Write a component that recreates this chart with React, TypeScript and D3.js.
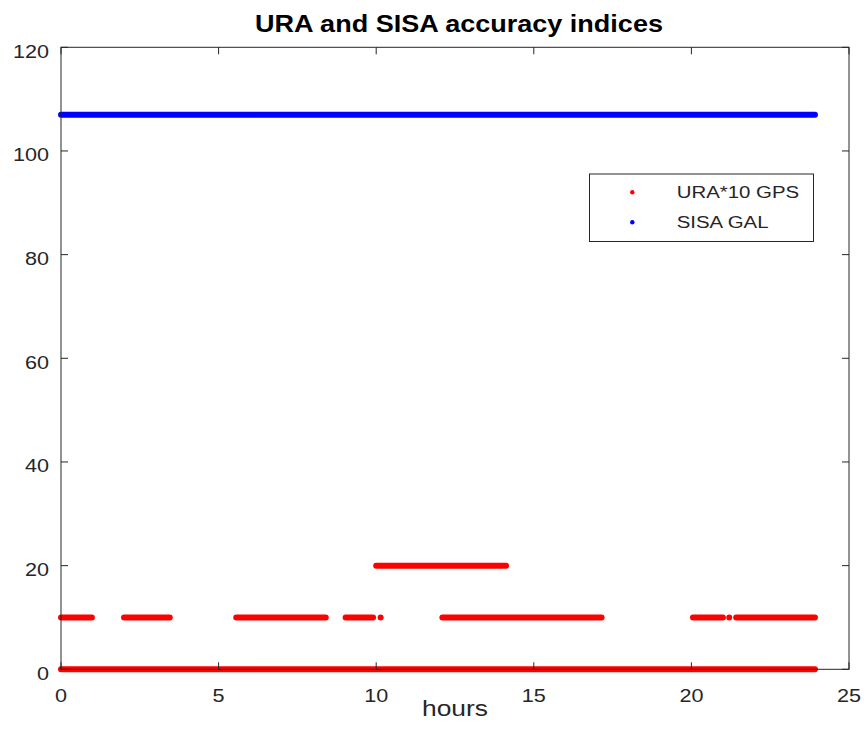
import React from "react";
import * as d3 from "d3";

// ---- data (hours) ----
const xTicks = [0, 5, 10, 15, 20, 25];
const yTicks = [0, 20, 40, 60, 80, 100, 120];

// runs of consecutive epochs: [startHour, endHour, value]
const uraRuns: [number, number, number][] = [
  [0, 23.92, 0],
  [0, 0.98, 10],
  [2.0, 3.45, 10],
  [5.56, 8.4, 10],
  [9.03, 9.9, 10],
  [12.1, 17.15, 10],
  [20.05, 21.0, 10],
  [21.42, 23.92, 10],
  [10.0, 14.12, 20],
];
// isolated single epochs: [hour, value]
const uraSingles: [number, number][] = [
  [10.14, 10],
  [21.2, 10],
];
const sisaRuns: [number, number, number][] = [[0, 23.92, 107]];

const seriesNames = ["URA*10 GPS", "SISA GAL"];
const seriesColors = ["#ff0000", "#0000ff"];

const W = 867;
const H = 747;
const M = { left: 61, right: 849, top: 47.3, bottom: 669.3 };
const AX = "#262626";
const FONT = "'Liberation Sans', Arial, sans-serif";
const SX = 1.2;

export default function App() {
  const x = d3.scaleLinear().domain([0, 25]).range([M.left, M.right]);
  const y = d3.scaleLinear().domain([0, 120]).range([M.bottom, M.top]);
  const line = d3
    .line<[number, number]>()
    .x((d) => x(d[0]))
    .y((d) => y(d[1]));
  const tl = 7;
  const runPath = (r: [number, number, number]) =>
    line([
      [r[0], r[2]],
      [r[1], r[2]],
    ]) as string;

  return (
    <svg
      width={W}
      height={H}
      style={{ position: "absolute", left: 0, top: 0, background: "#fff" }}
      fontFamily={FONT}
    >
      <rect x={0} y={0} width={W} height={H} fill="#fff" />
      {/* data */}
      <g>
        {uraRuns.map((r, i) => (
          <path
            key={"u" + i}
            d={runPath(r)}
            stroke={seriesColors[0]}
            strokeWidth={6}
            strokeLinecap="round"
            fill="none"
          />
        ))}
        {uraSingles.map((p, i) => (
          <circle key={"us" + i} cx={x(p[0])} cy={y(p[1])} r={3} fill={seriesColors[0]} />
        ))}
        {sisaRuns.map((r, i) => (
          <path
            key={"s" + i}
            d={runPath(r)}
            stroke={seriesColors[1]}
            strokeWidth={6}
            strokeLinecap="round"
            fill="none"
          />
        ))}
      </g>
      {/* axes box */}
      <rect
        x={M.left}
        y={M.top}
        width={M.right - M.left}
        height={M.bottom - M.top}
        fill="none"
        stroke={AX}
        strokeWidth={1}
      />
      {xTicks.map((t) => (
        <g key={"xt" + t}>
          <line x1={x(t)} x2={x(t)} y1={M.bottom} y2={M.bottom - tl} stroke={AX} />
          <line x1={x(t)} x2={x(t)} y1={M.top} y2={M.top + tl} stroke={AX} />
          <text
            transform={`translate(${x(t)},${702}) scale(${SX},1)`}
            textAnchor="middle"
            fontSize={18}
            fill={AX}
          >
            {t}
          </text>
        </g>
      ))}
      {yTicks.map((t) => (
        <g key={"yt" + t}>
          <line x1={M.left} x2={M.left + tl} y1={y(t)} y2={y(t)} stroke={AX} />
          <line x1={M.right} x2={M.right - tl} y1={y(t)} y2={y(t)} stroke={AX} />
          <text
            transform={`translate(${49},${y(t) + 10.5}) scale(${SX},1)`}
            textAnchor="end"
            fontSize={18}
            fill={AX}
          >
            {t}
          </text>
        </g>
      ))}
      {/* labels */}
      <text
        transform={`translate(${(M.left + M.right) / 2},${716}) scale(${SX},1)`}
        textAnchor="middle"
        fontSize={22}
        fill={AX}
      >
        hours
      </text>
      <text
        transform={`translate(${459},${31.5}) scale(1.15,1)`}
        textAnchor="middle"
        fontSize={23.5}
        fontWeight="bold"
        fill="#000"
      >
        URA and SISA accuracy indices
      </text>
      {/* legend */}
      <g>
        <rect x={589.5} y={174} width={224} height={67.5} fill="#fff" stroke={AX} strokeWidth={1} />
        {seriesNames.map((n, i) => (
          <g key={n}>
            <circle cx={632.3} cy={192.3 + i * 30} r={2.2} fill={seriesColors[i]} />
            <text
              transform={`translate(${676.7},${192.3 + i * 30 + 6}) scale(${SX},1)`}
              fontSize={17}
              fill={AX}
            >
              {n}
            </text>
          </g>
        ))}
      </g>
    </svg>
  );
}
